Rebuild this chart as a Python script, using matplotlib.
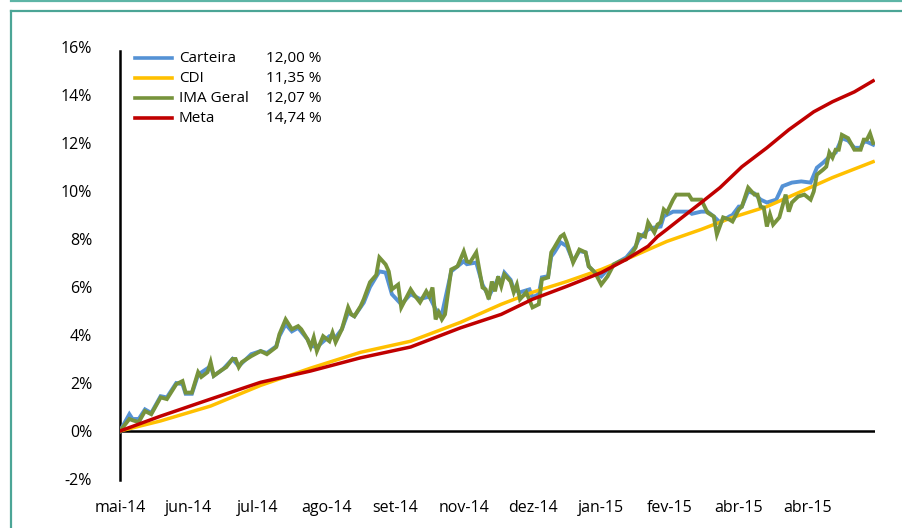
import matplotlib
matplotlib.use("Agg")
import matplotlib.pyplot as plt
from matplotlib.lines import Line2D

plt.rcParams['font.family'] = ['Open Sans', 'DejaVu Sans']

# ---------------- data ----------------
x_tick_days = [0, 22, 44, 66, 88, 110, 132, 154, 176, 198, 220]
x_tick_labels = ["mai-14", "jun-14", "jul-14", "ago-14", "set-14", "nov-14",
                 "dez-14", "jan-15", "fev-15", "abr-15", "abr-15"]
y_ticks = [-2, 0, 2, 4, 6, 8, 10, 12, 14, 16]
y_tick_labels = ["-2%", "0%", "2%", "4%", "6%", "8%", "10%", "12%", "14%", "16%"]

series_names = ["Carteira", "CDI", "IMA Geral", "Meta"]
legend_values = ["12,00 %", "11,35 %", "12,07 %", "14,74 %"]

carteira_days = [0, 3, 4, 6, 8, 10, 13, 15, 18, 20, 21, 23, 25, 29, 30, 33, 36, 38, 42, 45,
                 47, 50, 51, 53, 55, 57, 60, 61, 63, 67, 69, 71, 73, 75, 78, 80, 83, 85, 87, 90,
                 93, 96, 99, 101, 103, 106, 110, 111, 114, 116, 118, 121,
                 122, 123, 125, 126, 128, 131, 132, 134, 135, 137, 138, 139, 141, 143, 145, 147,
                 149, 150, 152, 154, 156, 158, 162, 165, 166, 169, 171, 173, 174, 177, 182, 183,
                 186, 188, 190, 192, 195, 196, 198, 199, 201, 203, 205, 207, 210, 212, 215, 218,
                 221, 223, 225, 227, 229, 231, 233, 235, 237, 238, 239, 241]
carteira_vals = [0.0, 0.7, 0.5, 0.5, 0.9, 0.75, 1.45, 1.4, 2.0, 1.95, 1.55, 1.55, 2.35, 2.7, 2.3, 2.58, 3.0, 2.7, 3.2, 3.33,
                 3.25, 3.53, 3.95, 4.45, 4.15, 4.3, 3.82, 3.55, 3.5, 3.95, 3.9, 4.24, 4.94, 4.78, 5.35, 6.0, 6.65, 6.6, 5.7, 5.28,
                 5.7, 5.5, 5.6, 5.07, 4.86, 6.65, 7.07, 6.95, 7.02, 6.1, 5.6, 6.35,
                 6.19, 6.6, 6.3, 5.9, 5.78, 5.9, 5.57, 5.7, 6.4, 6.45, 7.27, 7.44, 7.86, 7.7, 7.07, 7.5,
                 7.44, 6.86, 6.6, 6.44, 6.73, 6.94, 7.23, 7.7, 7.98, 8.4, 8.48, 8.52, 8.94, 9.14, 9.14, 9.05,
                 9.14, 9.14, 8.94, 8.69, 8.94, 9.0, 9.35, 9.35, 9.98, 9.9, 9.64, 9.52, 9.64, 10.2, 10.35, 10.4,
                 10.35, 10.97, 11.18, 11.43, 11.6, 12.2, 12.1, 11.8, 11.8, 12.05, 12.05, 11.93]

ima_days = [0, 3, 4, 6, 8, 10, 13, 15, 18, 20, 21, 23, 25, 26, 28, 29, 30, 33, 34, 36, 37, 38, 39,
            42, 45, 47, 50, 51, 53, 55, 57, 58, 60, 61, 62, 63, 65, 67, 68, 69, 71, 73, 74, 75, 77,
            78, 80, 82, 83, 85, 86, 87, 89, 90, 93, 94, 96, 98, 99, 100, 101, 102, 103, 104, 106,
            108, 110, 111, 112, 114, 116, 117, 118, 119, 120, 121,
            122, 123, 125, 126, 127, 128, 130, 132, 134, 135, 137, 138, 139, 141, 142, 143, 145,
            147, 149, 150, 152, 154, 156, 158, 160, 162, 164, 165, 166, 168, 169, 171, 172, 173,
            174, 175, 177, 178, 180, 182, 183, 186, 188, 190, 191, 193, 195, 196, 198, 199, 201,
            203, 204, 205, 206, 207, 208, 209, 211, 213, 214, 215, 217, 219, 221, 222, 223, 225,
            226, 227, 228, 229, 230, 231, 233, 235, 237, 238, 239, 240, 241]
ima_vals = [0.0, 0.5, 0.45, 0.37, 0.83, 0.7, 1.4, 1.33, 1.95, 2.08, 1.6, 1.6, 2.45, 2.25, 2.45, 2.87, 2.3, 2.58, 2.66, 3.0, 3.0, 2.66, 2.87,
            3.12, 3.33, 3.2, 3.5, 4.03, 4.65, 4.24, 4.37, 4.24, 3.82, 3.5, 3.9, 3.33, 3.95, 3.74, 4.1, 3.7, 4.24, 5.15, 4.86, 4.78, 5.2,
            5.49, 6.2, 6.5, 7.23, 6.94, 6.65, 5.9, 6.1, 5.15, 5.9, 5.7, 5.36, 5.82, 5.6, 5.98, 4.65, 4.94, 4.65, 4.86, 6.73,
            6.86, 7.48, 7.07, 7.02, 7.44, 5.98, 5.9, 5.49, 6.23, 5.82, 6.44,
            6.03, 6.52, 6.23, 5.78, 6.1, 5.49, 5.78, 5.15, 5.28, 6.32, 6.4, 7.44, 7.65, 8.1, 8.19, 7.86, 7.02,
            7.56, 7.44, 6.86, 6.6, 6.1, 6.44, 6.94, 7.07, 7.15, 7.44, 7.65, 8.19, 8.1, 8.69, 8.27, 8.6, 8.69,
            9.23, 9.1, 9.64, 9.85, 9.85, 9.85, 9.64, 9.64, 9.1, 8.94, 8.19, 8.9, 8.81, 8.73, 9.23, 9.35, 10.14,
            9.85, 9.85, 9.35, 9.31, 8.52, 9.02, 8.6, 8.9, 9.85, 9.14, 9.52, 9.77, 9.85, 9.64, 9.98, 10.68, 10.89,
            11.01, 11.6, 11.39, 11.72, 11.72, 12.34, 12.2, 11.72, 11.72, 12.14, 12.14, 12.4, 12.0]

cdi_days = [0, 13, 29, 45, 61, 77, 93, 109, 122, 132, 143, 154, 164, 175, 186, 196, 207, 218, 228, 241]
cdi_vals = [0.0, 0.42, 1.04, 1.9, 2.62, 3.28, 3.74, 4.53, 5.28, 5.78, 6.23, 6.73, 7.27, 7.9, 8.4, 8.9, 9.35, 9.98, 10.56, 11.22]

meta_days = [0, 13, 29, 45, 61, 77, 93, 109, 122, 132, 143, 154, 162, 169, 172, 175, 179, 186, 192,
             199, 207, 214, 222, 228, 235, 241]
meta_vals = [0.0, 0.62, 1.33, 2.03, 2.5, 3.05, 3.5, 4.3, 4.86, 5.49, 6.03, 6.6, 7.15, 7.7, 8.1, 8.4, 8.81, 9.52, 10.14,
             11.01, 11.8, 12.55, 13.3, 13.72, 14.13, 14.59]

colors = ["#5592d5", "#ffc000", "#77933c", "#c00000"]
widths = [2.8, 2.5, 2.8, 2.5]

# ---------------- figure ----------------
W, H = 903, 528
fig = plt.figure(figsize=(W / 100, H / 100), dpi=100)
fig.patch.set_facecolor("white")

teal = "#4ba596"
fig.add_artist(Line2D([11 / W, 1], [1 - 0.8 / H, 1 - 0.8 / H], transform=fig.transFigure, color="#5db5a6", lw=1.6))
fig.add_artist(Line2D([11 / W, 1], [1 - 11 / H, 1 - 11 / H], transform=fig.transFigure, color=teal, lw=1.6))
fig.add_artist(Line2D([11 / W, 11 / W], [0, 1 - 11 / H], transform=fig.transFigure, color=teal, lw=1.6))

ax = fig.add_axes([120 / W, 1 - 479 / H, 755 / W, 432 / H])
ax.set_facecolor("none")

data = [(carteira_days, carteira_vals), (cdi_days, cdi_vals), (ima_days, ima_vals), (meta_days, meta_vals)]
for (d, v), c, lw in zip(data, colors, widths):
    ax.plot(d, v, color=c, lw=lw, solid_joinstyle="miter", zorder=3)

ax.axhline(0, color="black", lw=1.8, zorder=2)
ax.set_xlim(0, 241.6)
ax.set_ylim(-2, 16)

for s in ["top", "right", "bottom"]:
    ax.spines[s].set_visible(False)
ax.spines["left"].set_linewidth(1.8)
ax.spines["left"].set_color("black")
ax.spines["left"].set_bounds(-2.05, 15.85)

ax.set_yticks(y_ticks)
ax.set_yticklabels(y_tick_labels)
ax.set_xticks(x_tick_days)
ax.set_xticklabels(x_tick_labels)
ax.tick_params(axis="y", length=0, pad=20, labelsize=11.5, colors="black")
ax.tick_params(axis="x", length=0, pad=15, labelsize=11.5, colors="black")

# legend drawn manually
rows_y = [58, 78, 98, 118]
for name, val, c, yy in zip(series_names, legend_values, colors, rows_y):
    fy = 1 - yy / H
    fig.add_artist(Line2D([135 / W, 172 / W], [fy, fy], transform=fig.transFigure, color=c, lw=2.6))
    fig.text(179 / W, fy, name, fontsize=11, va="center", ha="left", color="black")
    fig.text(266 / W, fy, val, fontsize=11, va="center", ha="left", color="black")

fig.savefig("out.png", dpi=100)
